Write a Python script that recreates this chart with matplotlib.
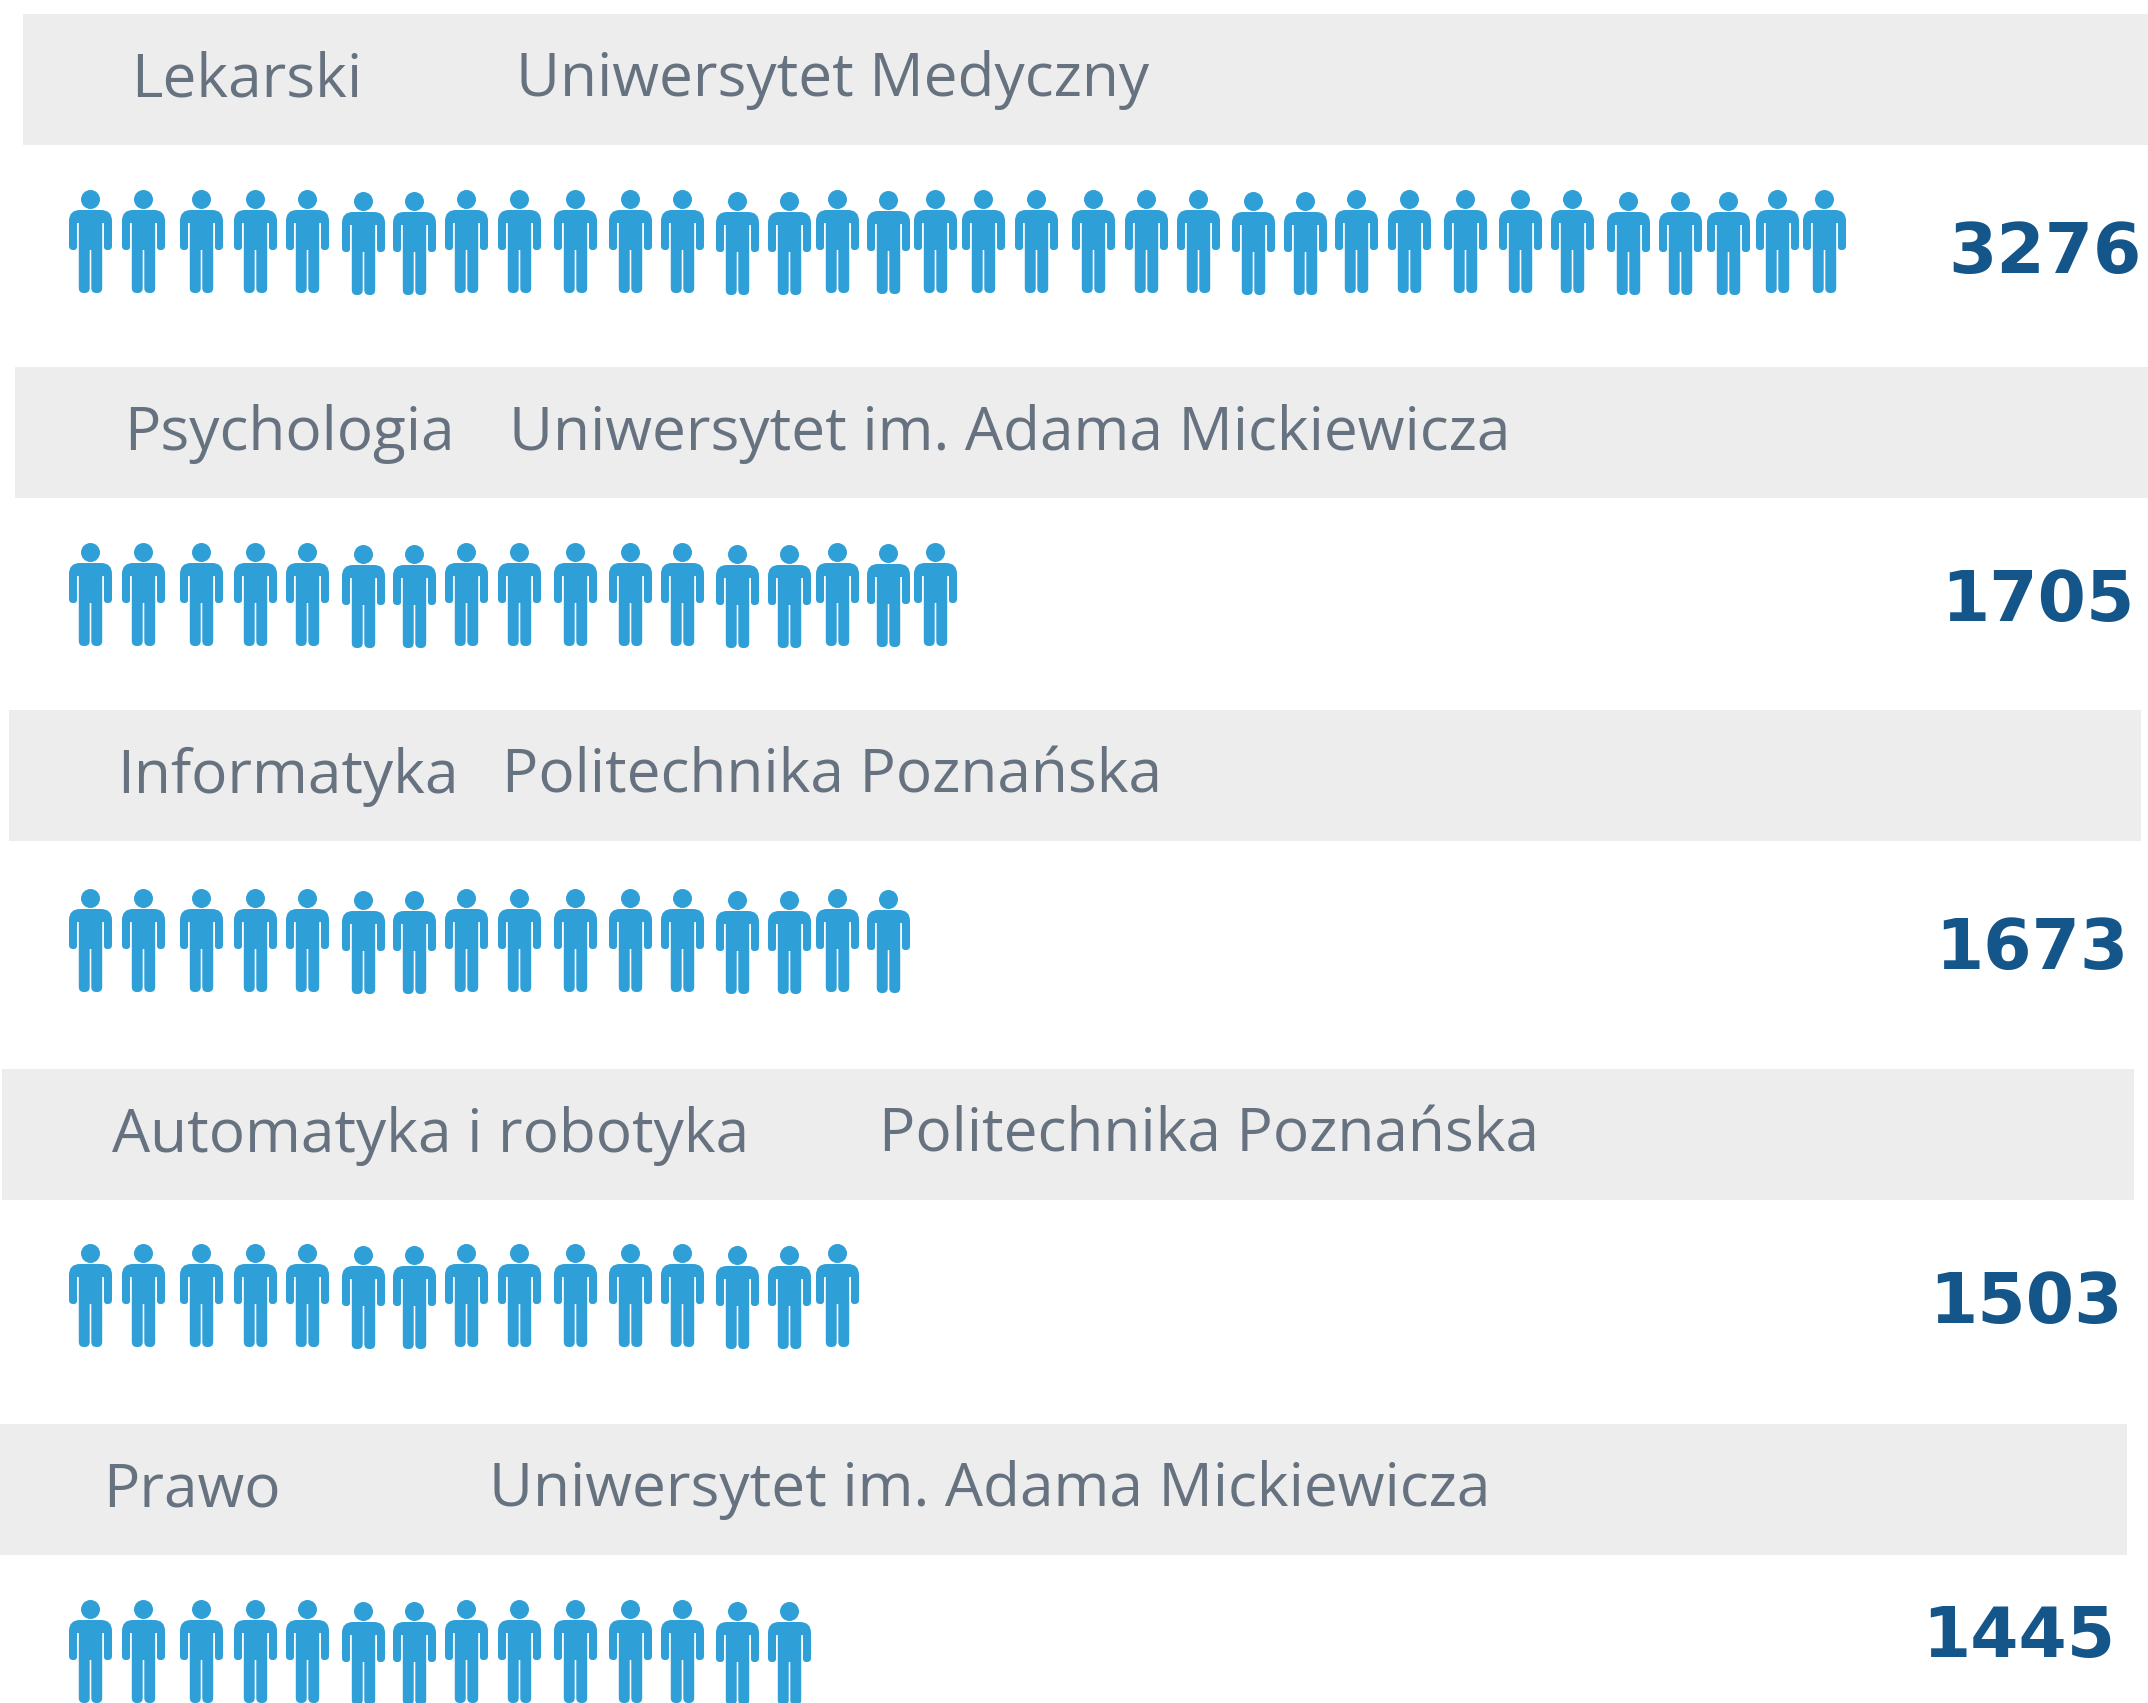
import numpy as np
import matplotlib
matplotlib.use("Agg")
import matplotlib.pyplot as plt
from matplotlib.path import Path

majors = ["Lekarski", "Psychologia", "Informatyka", "Automatyka i robotyka", "Prawo"]
schools = ["Uniwersytet Medyczny", "Uniwersytet im. Adama Mickiewicza", "Politechnika Poznańska",
           "Politechnika Poznańska", "Uniwersytet im. Adama Mickiewicza"]
values = [3276, 1705, 1673, 1503, 1445]
icon_counts = [34, 17, 16, 15, 14]

# layout, in pixels of the 2148x1703 picture
band_left = [23, 15, 9, 2, 0]
band_right = [2148, 2148, 2141, 2134, 2127]
band_mid = [79.5, 432.5, 775.5, 1134.5, 1489.5]
icon_y = [241, 594, 940, 1295, 1651]
major_x = [131, 124, 117, 112, 103]
school_x = [516, 509, 502, 879, 489]
value_x = [1948, 1941, 1935, 1929, 1922]
value_y = [253, 602, 950, 1304, 1638]

# the icons are not evenly spaced in the original
icon_gaps = [53, 58, 53.5, 52, 56, 51, 52, 53, 56, 55, 52, 55, 52, 48, 51, 47, 48, 53, 57, 53, 52,
             55, 52, 51, 53, 56, 55, 52, 56, 52, 48, 49, 47]
icon_drop = [0, 0, 0, 0, 0, 2, 2, 0, 0, 0, 0, 0, 2, 2, 0, 1, 0, 0, 0, 0, 0, 0, 2, 2, 0, 0, 0, 0, 0, 2, 2, 2, 0, 0]
first_icon = 90

BLUE = "#2f9fd8"
GREY = "#66727f"
NAVY = "#14558a"
BAND = "#ededed"


def rounded(points, radii):
    # closed polygon with quadratic corners
    verts, codes = [], []
    n = len(points)
    for i in range(n):
        p = np.array(points[i], float)
        a = np.array(points[i - 1], float)
        b = np.array(points[(i + 1) % n], float)
        r = radii[i]
        p1 = p + (a - p) / np.linalg.norm(a - p) * r
        p2 = p + (b - p) / np.linalg.norm(b - p) * r
        verts += [p1, p, p2]
        codes += [Path.MOVETO if i == 0 else Path.LINETO, Path.CURVE3, Path.CURVE3]
    verts.append(verts[0])
    codes.append(Path.CLOSEPOLY)
    return Path(verts, codes)


def person():
    # y is measured up from the middle of the figure, 103 units tall
    half = [(21.5, 20, 11), (21.5, 60, 4), (13.5, 60, 3), (13.5, 33, 0.5), (11.7, 33, 0.5),
            (11.7, 103, 5), (0.8, 103, 5), (0.8, 60, 0.3)]
    pts = [(x, 51.5 - y) for x, y, r in half] + [(-x, 51.5 - y) for x, y, r in half[::-1]]
    rad = [r for x, y, r in half] + [r for x, y, r in half[::-1]]
    body = rounded(pts[::-1], rad[::-1])
    head = Path.circle((0, 51.5 - 9.5), 9.5)
    return Path.make_compound_path(body, head)


fig = plt.figure(figsize=(21.48, 17.03), dpi=100)
ax = fig.add_axes([0, 0, 1, 1])
ax.set_xlim(0, 2148)
ax.set_ylim(1703, 0)
ax.axis("off")

marker = person()
icon_xs = first_icon + np.concatenate([[0], np.cumsum(icon_gaps)])
label_font = "Open Sans"

for i in range(len(values)):
    ax.barh(band_mid[i], band_right[i] - band_left[i], height=131, left=band_left[i], color=BAND, zorder=1)
    ax.text(major_x[i], band_mid[i] + 1, majors[i], fontsize=43.5, color=GREY, family=label_font, va="center", zorder=3)
    ax.text(school_x[i], band_mid[i] + 1, schools[i], fontsize=43.5, color=GREY, family=label_font, va="center", zorder=3)
    n = icon_counts[i]
    ys = icon_y[i] + np.array(icon_drop[:n])
    ax.scatter(icon_xs[:n], ys, marker=marker, s=(103 * 0.72) ** 2, color=BLUE, linewidths=0, zorder=2)
    ax.text(value_x[i], value_y[i], str(values[i]), fontsize=50, fontweight="bold", color=NAVY,
            family="DejaVu Sans", va="center", zorder=3)

fig.savefig("out.png", dpi=100)
